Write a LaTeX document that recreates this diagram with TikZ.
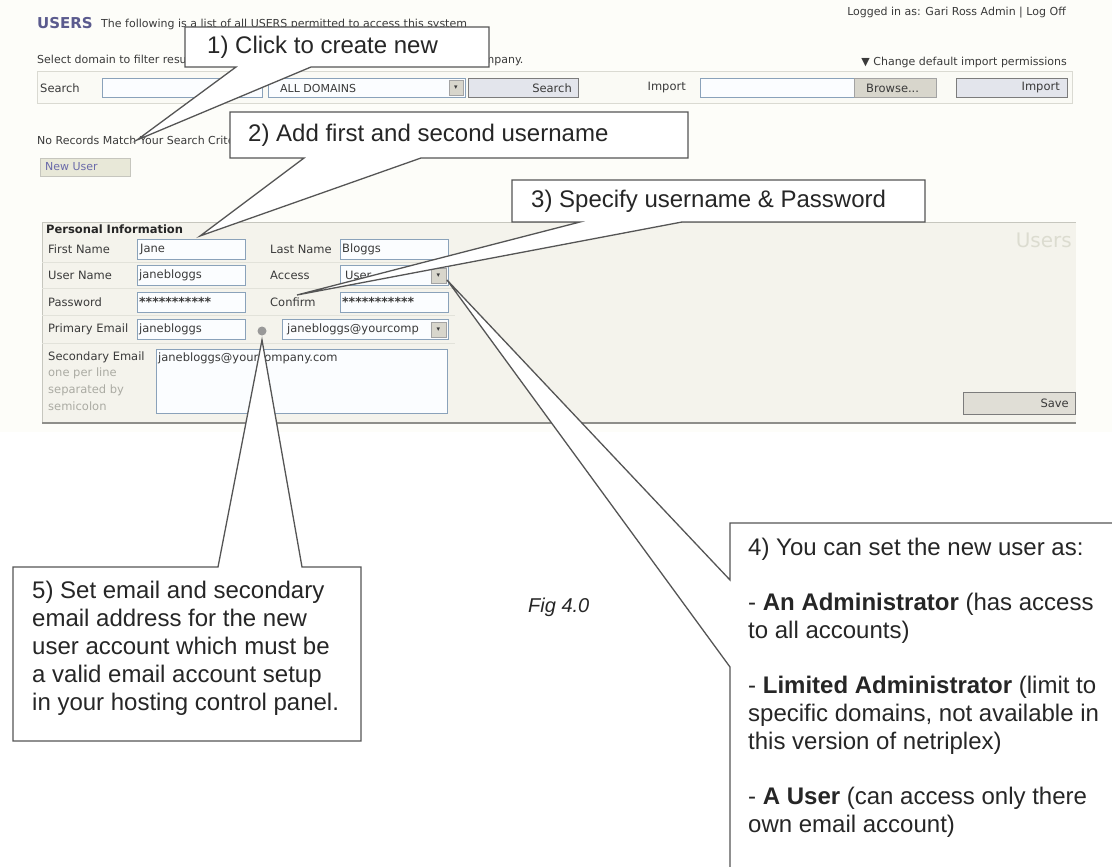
\documentclass[tikz,border=0pt]{standalone}
\usepackage{fontspec}
\setmainfont{Liberation Sans}
\newfontfamily\uifont{DejaVu Sans}
\usetikzlibrary{calc}

\definecolor{pagecream}{HTML}{FDFDF9}
\definecolor{bandfill}{HTML}{FAFAF5}
\definecolor{bandedge}{HTML}{DADAD2}
\definecolor{panelfill}{HTML}{F4F3EC}
\definecolor{paneledge}{HTML}{C6C6BE}
\definecolor{panelbase}{HTML}{8E8E8A}
\definecolor{fieldedge}{HTML}{8AA2BA}
\definecolor{fieldfill}{HTML}{FBFDFF}
\definecolor{labelgray}{HTML}{3A3A3A}
\definecolor{hintgray}{HTML}{ABABA3}
\definecolor{rulegray}{HTML}{E2E2DA}
\definecolor{titleblue}{HTML}{5B5B8E}
\definecolor{btnfill}{HTML}{E3E5EC}
\definecolor{btnedge}{HTML}{7C7C7C}
\definecolor{greybtn}{HTML}{D8D6CC}
\definecolor{newbtn}{HTML}{E8E8D8}
\definecolor{newbtntext}{HTML}{6A6AAA}
\definecolor{watermark}{HTML}{DCDCD0}
\definecolor{calloutedge}{HTML}{555555}
\definecolor{notetext}{HTML}{262626}

\begin{document}
\begin{tikzpicture}[x=1pt,y=-1pt,
  ui/.style={font=\uifont\fontsize{11.5}{13}\selectfont, text=labelgray, inner sep=0pt, anchor=west},
  uismall/.style={ui, font=\uifont\fontsize{11}{12}\selectfont},
  arrowglyph/.style={ui, font=\uifont\fontsize{7}{7}\selectfont, anchor=center},
  field/.style={draw=fieldedge, fill=fieldfill, line width=0.9pt},
  button/.style={draw=btnedge, fill=btnfill, line width=0.8pt},
  dropbtn/.style={draw=btnedge!70, fill=greybtn, line width=0.6pt},
  callout/.style={draw=calloutedge, fill=white, line width=1.3pt, line join=miter},
  note/.style={font=\fontsize{24}{28}\selectfont, text=notetext, inner sep=0pt, align=left}
]
\useasboundingbox (0,0) rectangle (1112,867);
\clip (0,0) rectangle (1112,867);
\fill[white] (0,0) rectangle (1112,867);
\fill[pagecream] (0,0) rectangle (1112,432);

% ---------- page header ----------
\node[ui, font=\uifont\bfseries\fontsize{15}{16}\selectfont, text=titleblue] (title) at (37,23) {USERS};
\node[uismall] (intro) at (101,24.5) {The following is a list of all USERS permitted to access this system};
\node[uismall, anchor=east] (login) at (1066,13) {Logged in as: Gari Ross Admin | Log Off};
\node[uismall] (domainhint) at (37,60) {Select domain to filter results, or enter a name to search for users within your company.};
\node[uismall, anchor=east] (importperm) at (1067,62) {▼\ Change default import permissions};

% ---------- search / import bar ----------
\draw[bandedge, fill=bandfill] (37,71) rectangle (1072,103);
\node[ui] (searchlbl) at (40,88) {Search};
\draw[field] (102,78) rectangle (262,97);
\draw[field] (268,78) rectangle (465,97);
\node[uismall] (domains) at (280,88) {ALL DOMAINS};
\draw[dropbtn] (449,80) rectangle (463,95);
\node[arrowglyph] (domainsarrow) at (456,87.5) {▾};
\draw[button] (468,78) rectangle (578,97);
\node[ui, anchor=east] (searchbtn) at (572,88) {Search};
\node[ui, anchor=east] (importlbl) at (686,88) {Import};
\draw[field] (700,78) rectangle (854,97);
\draw[dropbtn] (854,78) rectangle (936,97);
\node[ui] (browse) at (866,88) {Browse...};
\draw[button] (956,78) rectangle (1067,97);
\node[ui, anchor=east] (importbtn) at (1060,88) {Import};

% ---------- result line and new user button ----------
\node[uismall] (norecords) at (37,140) {No Records Match Your Search Criteria};
\draw[draw=paneledge, fill=newbtn] (40,158) rectangle (130,176);
\node[uismall, text=newbtntext] (newuser) at (45,167) {New User};

% ---------- personal information panel ----------
\fill[panelfill] (42,222) rectangle (1076,423);
\draw[paneledge, line width=0.8pt] (42,423) -- (42,222) -- (1076,222);
\draw[panelbase, line width=1.5pt] (42,423) -- (1076,423);
\node[ui, font=\uifont\fontsize{20}{20}\selectfont, text=watermark, anchor=east] (watermark) at (1072,240) {Users};
\node[ui, font=\uifont\bfseries\fontsize{11.5}{12}\selectfont, text=black!85] (personal) at (46,229) {Personal Information};

% row separators
\foreach \yy in {262,288.5,315.5,343}
  \draw[rulegray, line width=0.8pt] (42,\yy) -- (455,\yy);

% row 1
\node[ui] (firstlbl) at (48,249) {First Name};
\draw[field] (137,239) rectangle (245,259);
\node[ui] (firstval) at (140,249) {Jane};
\node[ui] (lastlbl) at (270,249) {Last Name};
\draw[field] (340,239) rectangle (448,259);
\node[ui] (lastval) at (342,249) {Bloggs};

% row 2
\node[ui] (userlbl) at (48,275) {User Name};
\draw[field] (137,265) rectangle (245,285);
\node[ui] (userval) at (139,275) {janebloggs};
\node[ui] (accesslbl) at (270,275) {Access};
\draw[field] (340,265) rectangle (448,285);
\node[ui] (accessval) at (345,275) {User};
\draw[dropbtn] (431,268) rectangle (446,283);
\node[arrowglyph] (accessarrow) at (438.5,275.5) {▾};

% row 3
\node[ui] (passlbl) at (48,302) {Password};
\draw[field] (137,292) rectangle (245,312);
\node[ui, font=\uifont\bfseries\fontsize{12.5}{13}\selectfont] (passval) at (139,302) {***********};
\node[ui] (confirmlbl) at (270,302) {Confirm};
\draw[field] (340,292) rectangle (448,312);
\node[ui, font=\uifont\bfseries\fontsize{12.5}{13}\selectfont] (confirmval) at (342,302) {***********};

% row 4
\node[ui] (maillbl) at (48,329) {Primary Email};
\draw[field] (137,319) rectangle (245,339);
\node[ui] (mailval) at (139,329) {janebloggs};
\fill[black!40] (262,331) circle (4.5);
\draw[field] (282,319) rectangle (448,339);
\node[ui] (domainval) at (287,329) {janebloggs@yourcomp};
\draw[dropbtn] (431,322) rectangle (446,337);
\node[arrowglyph] (domainarrow) at (438.5,329.5) {▾};

% row 5
\node[ui] (secondlbl) at (48,357) {Secondary Email};
\node[ui, text=hintgray] (hint1) at (48,373) {one per line};
\node[ui, text=hintgray] (hint2) at (48,390) {separated by};
\node[ui, text=hintgray] (hint3) at (48,406) {semicolon};
\draw[field] (156,349) rectangle (447,413);
\node[ui] (secondval) at (158,358) {janebloggs@yourcompany.com};

\draw[draw=btnedge, fill=greybtn!80] (963,392) rectangle (1075,414);
\node[ui, anchor=east] (save) at (1069,403) {Save};

% ---------- callouts ----------
\coordinate (tip1) at (137,140);
\coordinate (tip2) at (200,236);
\coordinate (tip3) at (297,295);
\coordinate (tip4) at (447,280);
\coordinate (tip5) at (262,340);

\path[callout] (185,27) -- (489,27) -- (489,67) -- (311,67) -- (tip1) -- (236,67) -- (185,67) -- cycle;
\node[note, anchor=west] (note1) at (207,47) {1) Click to create new};

\path[callout] (230,112) -- (688,112) -- (688,158) -- (421,158) -- (tip2) -- (304,158) -- (230,158) -- cycle;
\node[note, anchor=west] (note2) at (248,135) {2) Add first and second username};

\path[callout] (512,180) -- (925,180) -- (925,222) -- (682,222) -- (tip3) -- (580,222) -- (512,222) -- cycle;
\node[note, anchor=west] (note3) at (531,201) {3) Specify username \& Password};

\path[callout] (730,523) -- (1130,523) -- (1130,890) -- (730,890) -- (730,667) -- (tip4) -- (730,580) -- cycle;
\node[note, anchor=north west] (note4) at (748,538) {4) You can set the new user as:\\[27pt]
- \textbf{An Administrator} (has access\\
to all accounts)\\[27pt]
- \textbf{Limited Administrator} (limit to\\
specific domains, not available in\\
this version of netriplex)\\[27pt]
- \textbf{A User} (can access only there\\
own email account)};

\path[callout] (13,567) -- (218,567) -- (tip5) -- (302,567) -- (361,567) -- (361,741) -- (13,741) -- cycle;
\node[note, anchor=north west] (note5) at (32,581) {5) Set email and secondary\\
email address for the new\\
user account which must be\\
a valid email account setup\\
in your hosting control panel.};

\node[font=\itshape\fontsize{20}{22}\selectfont, text=notetext, inner sep=0pt, anchor=west] (fig) at (528,607) {Fig 4.0};
\end{tikzpicture}
\end{document}
